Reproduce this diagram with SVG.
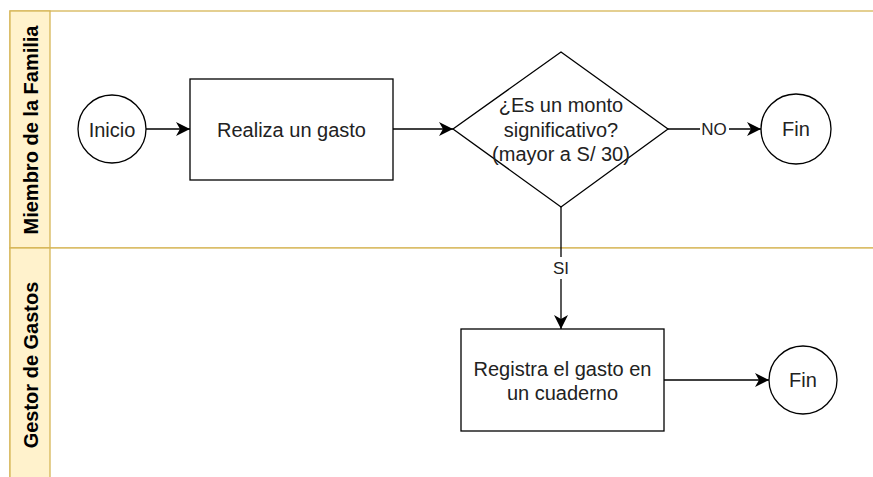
<svg xmlns="http://www.w3.org/2000/svg" width="873" height="477" viewBox="0 0 873 477">
  <style>
    .lane { fill: #ffffff; stroke: #d6b656; stroke-width: 1.3; }
    .hdr { fill: #fff2cc; stroke: #d6b656; stroke-width: 1.3; }
    .hdrtxt { font-family: "Liberation Sans", Arial, sans-serif; font-size: 20px; font-weight: bold; fill: #000; text-anchor: middle; dominant-baseline: central; }
    .shape { fill: #ffffff; stroke: #000000; stroke-width: 1.3; }
    .txt { font-family: "Liberation Sans", Arial, sans-serif; font-size: 20px; fill: #222; text-anchor: middle; dominant-baseline: central; }
    .lbl { font-family: "Liberation Sans", Arial, sans-serif; font-size: 17px; fill: #222; text-anchor: middle; dominant-baseline: central; }
    .edge { fill: none; stroke: #000000; stroke-width: 1.3; marker-end: url(#arrow); }
  </style>
  <defs>
    <marker id="arrow" markerUnits="userSpaceOnUse" markerWidth="15" markerHeight="15" refX="14" refY="7" orient="auto">
      <path d="M0,0 L14,7 L0,14 L4,7 Z" fill="#000000"/>
    </marker>
  </defs>
  <rect width="873" height="477" fill="#ffffff"/>

  <g id="pool">
    <g id="lane-miembro">
      <rect class="lane" x="10" y="11" width="880" height="237"/>
      <rect class="hdr" x="10" y="11" width="40" height="237"/>
      <text class="hdrtxt" transform="translate(31,130) rotate(-90)">Miembro de la Familia</text>
    </g>
    <g id="lane-gestor">
      <rect class="lane" x="10" y="248" width="880" height="240"/>
      <rect class="hdr" x="10" y="248" width="40" height="240"/>
      <text class="hdrtxt" transform="translate(31,365) rotate(-90)">Gestor de Gastos</text>
    </g>
  </g>

  <g id="connectors">
    <line class="edge" x1="146" y1="129" x2="190" y2="129"/>
    <line class="edge" x1="393" y1="129" x2="453" y2="129"/>
    <line class="edge" x1="668" y1="129" x2="761" y2="129"/>
    <line class="edge" x1="561" y1="207" x2="561" y2="329"/>
    <line class="edge" x1="664" y1="380" x2="769" y2="380"/>
    <g id="label-no">
      <rect x="700" y="119" width="29" height="20" fill="#ffffff"/>
      <text class="lbl" x="714" y="129.5">NO</text>
    </g>
    <g id="label-si">
      <rect x="552" y="257" width="18" height="22" fill="#ffffff"/>
      <text class="lbl" x="561" y="268">SI</text>
    </g>
  </g>

  <g id="inicio">
    <circle class="shape" cx="112" cy="129" r="34"/>
    <text class="txt" x="112" y="129.5">Inicio</text>
  </g>
  <g id="realiza">
    <rect class="shape" x="190" y="79" width="203" height="101"/>
    <text class="txt" x="291.5" y="129.5">Realiza un gasto</text>
  </g>
  <g id="decision">
    <polygon class="shape" points="561,52 668,129 561,207 453,129"/>
    <text class="txt" x="561" y="105">¿Es un monto</text>
    <text class="txt" x="561" y="129.5">significativo?</text>
    <text class="txt" x="561" y="154">(mayor a S/ 30)</text>
  </g>
  <g id="fin1">
    <circle class="shape" cx="796" cy="129" r="35"/>
    <text class="txt" x="796" y="128.5">Fin</text>
  </g>
  <g id="registra">
    <rect class="shape" x="461" y="329" width="203" height="102"/>
    <text class="txt" x="562.5" y="368.5">Registra el gasto en</text>
    <text class="txt" x="562.5" y="393">un cuaderno</text>
  </g>
  <g id="fin2">
    <circle class="shape" cx="803" cy="380" r="34"/>
    <text class="txt" x="803" y="379.5">Fin</text>
  </g>
</svg>
